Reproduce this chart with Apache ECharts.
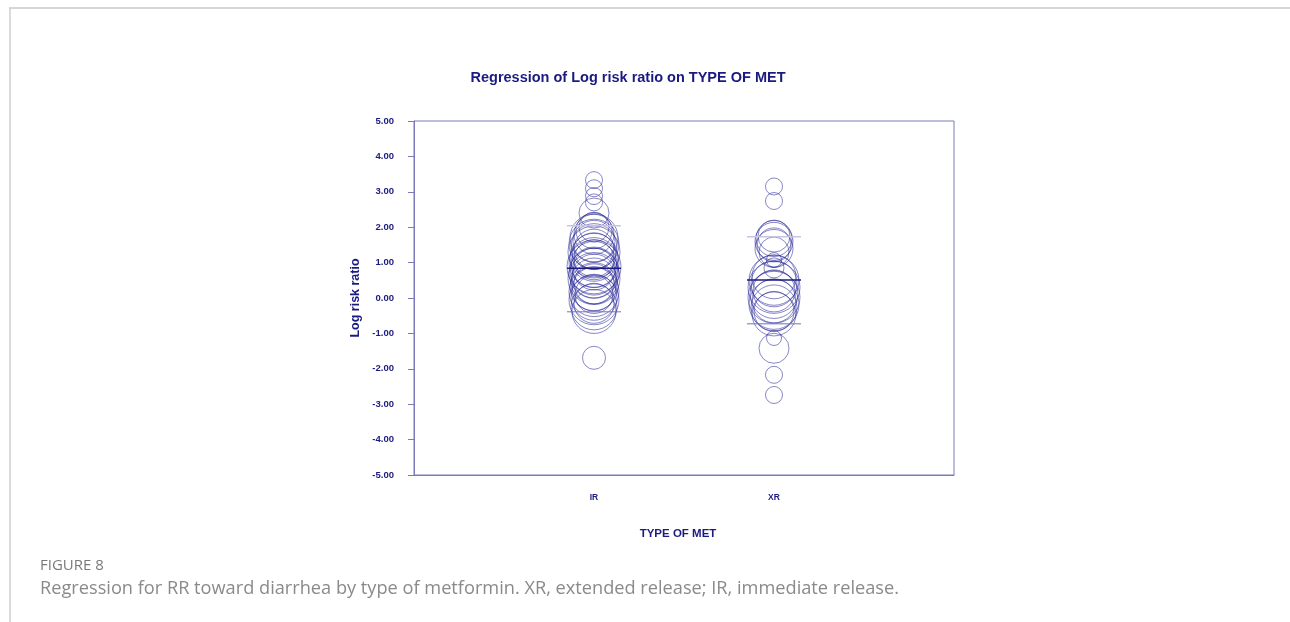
<!DOCTYPE html>
<html>
<head>
<meta charset="utf-8">
<script src="https://cdn.jsdelivr.net/npm/echarts@6/dist/echarts.min.js"></script>
<style>
html,body{margin:0;padding:0;background:#fff;}
#c{width:1290px;height:622px;}
</style>
</head>
<body>
<div id="c"></div>
<script>
// ---- data ----
var categories = ['IR', 'XR'];
// log risk ratio of each study (IR group)
var irValues = [3.33, 3.10, 2.88, 2.70, 2.40, 2.00, 1.90, 1.80, 1.70, 1.60, 1.52, 1.45, 1.38, 1.30, 1.22, 1.15, 1.08, 1.00, 0.95, 0.88, 0.82, 0.76, 0.70, 0.62, 0.55, 0.48, 0.40, 0.32, 0.25, 0.18, 0.10, 0.02, -0.05, -0.15, -0.25, -0.38, -1.69];
// study weights (bubble size)
var irWeights = [17, 17, 17, 17, 30, 30, 36, 40, 48, 42, 50, 46, 40, 52, 44, 48, 40, 50, 46, 54, 42, 48, 50, 44, 52, 46, 40, 48, 44, 50, 38, 46, 50, 40, 46, 44, 23];
var xrValues = [3.15, 2.74, 1.75, 1.68, 1.60, 1.50, 1.40, 1.30, 1.07, 0.85, 0.60, 0.50, 0.40, 0.30, 0.20, 0.10, 0.02, -0.08, -0.18, -0.28, -0.38, -0.45, -1.13, -1.42, -2.17, -2.74];
var xrWeights = [17, 17, 32, 36, 38, 34, 38, 30, 15, 20, 44, 50, 46, 52, 42, 48, 52, 44, 50, 46, 40, 44, 15, 30, 17, 17];
// regression fit per category: [fitted, lower, upper]
var irFit = [0.84, -0.39, 2.04];
var xrFit = [0.51, -0.73, 1.73];
var yTicks = [-5, -4, -3, -2, -1, 0, 1, 2, 3, 4, 5];

var navy = '#1a1a80';
var axisCol = '#7a7abb';
var circleCol = 'rgba(35,35,150,0.68)';
var halfW = 0.15;

function pts(pos, vals, w) {
  return vals.map(function (v, i) { return [pos, v, w[i]]; });
}
function seg(pos, y) { return [[pos - halfW, y], [pos + halfW, y]]; }

var series = [
  {type: 'scatter', data: pts(1, irValues, irWeights)},
  {type: 'scatter', data: pts(2, xrValues, xrWeights)}
].map(function (s) {
  s.symbol = 'circle';
  s.symbolSize = function (d) { return d[2]; };
  s.itemStyle = {color: 'rgba(0,0,0,0)', borderColor: circleCol, borderWidth: 1};
  s.emphasis = {disabled: true};
  s.silent = true;
  return s;
});

var lineStyles = [
  {color: navy, width: 1.5},
  {color: '#7272b6', width: 1},
  {color: '#c6c6e4', width: 1.5}
];
[[1, irFit], [2, xrFit]].forEach(function (g) {
  g[1].forEach(function (y, k) {
    series.push({
      type: 'line', data: seg(g[0], y), symbol: 'none', silent: true,
      lineStyle: lineStyles[k], z: 5 - k
    });
  });
});

var chart = echarts.init(document.getElementById('c'), null, {renderer: 'canvas'});
chart.setOption({
  animation: false,
  backgroundColor: '#fff',
  grid: {left: 414, right: 336, top: 121, bottom: 147, show: true, borderColor: axisCol, borderWidth: 1},
  xAxis: {
    type: 'value', min: 0, max: 3, interval: 1,
    name: 'TYPE OF MET', nameLocation: 'middle', nameGap: 53,
    nameTextStyle: {color: navy, fontFamily: 'Liberation Sans, Arial', fontWeight: 'bold', fontSize: 11.5, padding: [0, 12, 0, 0]},
    axisLine: {show: true, onZero: false, lineStyle: {color: axisCol}},
    axisTick: {show: false},
    splitLine: {show: false},
    axisLabel: {
      margin: 18, color: navy, fontFamily: 'Liberation Sans, Arial', fontWeight: 'bold', fontSize: 8.5,
      formatter: function (v) { return categories[v - 1] || ''; }
    }
  },
  yAxis: {
    type: 'value', min: yTicks[0], max: yTicks[yTicks.length - 1], interval: 1,
    name: 'Log risk ratio', nameLocation: 'middle', nameGap: 52, nameRotate: 90,
    nameTextStyle: {color: navy, fontFamily: 'Liberation Sans, Arial', fontWeight: 'bold', fontSize: 12.5},
    axisLine: {show: true, onZero: false, lineStyle: {color: axisCol}},
    axisTick: {show: true, length: 6, lineStyle: {color: axisCol}},
    splitLine: {show: false},
    axisLabel: {
      margin: 20, color: navy, fontFamily: 'Liberation Sans, Arial', fontWeight: 'bold', fontSize: 9.5,
      formatter: function (v) { return v.toFixed(2); }
    }
  },
  graphic: [
    {type: 'line', shape: {x1: 9, y1: 8, x2: 1290, y2: 8}, style: {stroke: '#d6d6d6', lineWidth: 2}},
    {type: 'line', shape: {x1: 10, y1: 8, x2: 10, y2: 622}, style: {stroke: '#cfcfcf', lineWidth: 1.5}},
    {type: 'text', x: 628, y: 78, style: {text: 'Regression of Log risk ratio on TYPE OF MET', fill: navy,
      font: 'bold 14.5px "Liberation Sans", Arial', textAlign: 'center', textVerticalAlign: 'middle'}},
    {type: 'text', x: 40, y: 566, style: {text: 'FIGURE 8', fill: '#7a7a7a',
      font: '15px "Open Sans"', textAlign: 'left', textVerticalAlign: 'middle'}},
    {type: 'text', x: 40, y: 589, style: {text: 'Regression for RR toward diarrhea by type of metformin. XR, extended release; IR, immediate release.',
      fill: '#8a8a8a', font: '18.2px "Open Sans"', textAlign: 'left', textVerticalAlign: 'middle'}}
  ],
  series: series
});
</script>
</body>
</html>
